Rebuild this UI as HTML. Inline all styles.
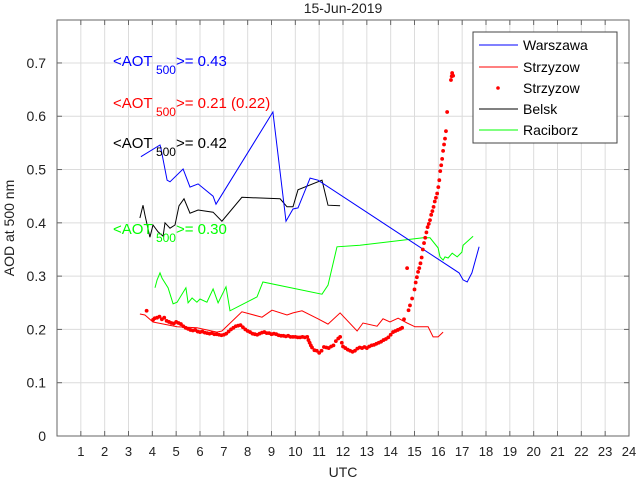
<!DOCTYPE html>
<html><head><meta charset="utf-8">
<style>
body{margin:0;background:#fff;}
svg{display:block;font-family:"Liberation Sans",sans-serif;}
</style></head>
<body>
<svg id="chart" width="640" height="480">
<rect x="0" y="0" width="640" height="480" fill="#fff"/>
<g id="grid"></g>
<g id="series"></g>
<rect x="57" y="20" width="572" height="416" fill="none" stroke="#666" stroke-width="1"/>
<g id="ticks"></g>
<text x="343" y="13" font-size="14" text-anchor="middle" fill="#222">15-Jun-2019</text>
<text x="343" y="477" font-size="14" text-anchor="middle" fill="#222">UTC</text>
<text transform="translate(14,228) rotate(-90)" font-size="14" text-anchor="middle" fill="#222">AOD at 500 nm</text>
<text x="113" y="66" font-size="15" fill="#0000ff">&lt;AOT<tspan dy="8" font-size="12"> 500</tspan><tspan dy="-8">&gt;= 0.43</tspan></text>
<text x="113" y="108" font-size="15" fill="#ff0000">&lt;AOT<tspan dy="8" font-size="12"> 500</tspan><tspan dy="-8">&gt;= 0.21 (0.22)</tspan></text>
<text x="113" y="148" font-size="15" fill="#000">&lt;AOT<tspan dy="8" font-size="12"> 500</tspan><tspan dy="-8">&gt;= 0.42</tspan></text>
<text x="113" y="234" font-size="15" fill="#00ff00">&lt;AOT<tspan dy="8" font-size="12"> 500</tspan><tspan dy="-8">&gt;= 0.30</tspan></text>
<g>
<rect x="473" y="32" width="144" height="111" fill="#fff" stroke="#444" stroke-width="1"/>
<line x1="479" y1="45" x2="518" y2="45" stroke="#0000ff"/>
<text x="523" y="50" font-size="14" fill="#000">Warszawa</text>
<line x1="479" y1="67" x2="518" y2="67" stroke="#ff0000"/>
<text x="523" y="72" font-size="14" fill="#000">Strzyzow</text>
<circle cx="498" cy="88" r="1.8" fill="#ff0000"/>
<text x="523" y="93" font-size="14" fill="#000">Strzyzow</text>
<line x1="479" y1="109" x2="518" y2="109" stroke="#000"/>
<text x="523" y="114" font-size="14" fill="#000">Belsk</text>
<line x1="479" y1="130" x2="518" y2="130" stroke="#00ff00"/>
<text x="523" y="135" font-size="14" fill="#000">Raciborz</text>
</g>
</svg>
<script>
const xTicks=[1,2,3,4,5,6,7,8,9,10,11,12,13,14,15,16,17,18,19,20,21,22,23,24];
const yTicks=[0,0.1,0.2,0.3,0.4,0.5,0.6,0.7];
const yTickLabels=["0","0.1","0.2","0.3","0.4","0.5","0.6","0.7"];
const warT=[3.52,4.32,4.36,4.62,4.74,5.29,5.58,5.92,6.55,6.67,9.06,9.61,9.90,10.11,10.62,10.95,16.87,17.04,17.21,17.41,17.71];
const warV=[0.524,0.546,0.540,0.480,0.477,0.501,0.467,0.473,0.450,0.435,0.608,0.403,0.426,0.428,0.484,0.480,0.306,0.293,0.289,0.306,0.355];
const belT=[3.48,3.61,3.69,3.90,4.03,4.24,4.45,4.53,4.74,4.95,5.12,5.33,5.58,5.92,6.55,6.92,7.76,9.36,9.65,9.90,10.11,11.12,11.37,11.88];
const belV=[0.409,0.433,0.415,0.373,0.396,0.383,0.375,0.400,0.390,0.396,0.432,0.445,0.418,0.424,0.420,0.403,0.448,0.445,0.430,0.430,0.462,0.480,0.433,0.432];
const racT=[4.11,4.20,4.32,4.41,4.66,4.87,5.04,5.41,5.50,5.67,5.87,6.00,6.29,6.55,6.76,7.09,7.26,8.39,8.64,11.12,11.37,11.75,12.71,15.36,15.65,15.99,16.07,16.20,16.28,16.41,16.58,16.79,16.99,17.04,17.46];
const racV=[0.278,0.293,0.306,0.296,0.278,0.248,0.251,0.278,0.250,0.259,0.251,0.257,0.251,0.276,0.250,0.280,0.235,0.261,0.289,0.266,0.283,0.355,0.358,0.372,0.372,0.353,0.336,0.330,0.336,0.334,0.343,0.336,0.345,0.358,0.375];
const strT=[3.48,3.69,4.03,5.04,5.87,6.71,6.92,7.76,8.60,9.02,9.65,9.90,10.28,10.95,11.37,11.88,12.59,12.84,13.43,13.68,13.97,14.31,14.69,15.02,15.57,15.78,15.99,16.20];
const strV=[0.229,0.227,0.214,0.205,0.203,0.195,0.197,0.233,0.223,0.236,0.227,0.231,0.235,0.220,0.210,0.231,0.197,0.212,0.206,0.220,0.214,0.221,0.212,0.205,0.205,0.186,0.186,0.195];
const dotPts=[
[3.76,0.235],[4.03,0.218],[4.1,0.221],[4.2,0.222],[4.3,0.224],[4.4,0.219],[4.5,0.222],[4.6,0.216],[4.7,0.214],[4.8,0.212],[4.9,0.211],[5.0,0.214],[5.1,0.212],[5.2,0.210],[5.3,0.206],[5.4,0.203],[5.5,0.201],[5.6,0.199],[5.7,0.198],[5.8,0.199],[5.9,0.196],[6.0,0.195],[6.1,0.196],[6.2,0.194],[6.3,0.193],[6.4,0.192],[6.5,0.193],[6.6,0.191],[6.7,0.191],[6.8,0.190],[6.9,0.189],[7.0,0.190],[7.1,0.192],[7.2,0.196],[7.3,0.200],[7.4,0.203],[7.5,0.206],[7.6,0.207],[7.7,0.208],[7.8,0.204],[7.9,0.200],[8.0,0.197],[8.1,0.195],[8.2,0.192],[8.3,0.191],[8.4,0.190],[8.5,0.192],[8.6,0.194],[8.7,0.195],[8.8,0.193],[8.9,0.193],[9.0,0.191],[9.1,0.192],[9.2,0.191],[9.3,0.189],[9.4,0.188],[9.5,0.188],[9.6,0.187],[9.7,0.188],[9.8,0.186],[9.9,0.186],[10.0,0.186],[10.1,0.185],[10.2,0.185],[10.3,0.186],[10.4,0.185],[10.5,0.186],[10.55,0.180],[10.6,0.175],[10.65,0.170],[10.7,0.166],[10.8,0.161],[10.9,0.160],[11.0,0.156],[11.1,0.160],[11.2,0.167],[11.3,0.166],[11.4,0.165],[11.5,0.168],[11.6,0.170],[11.7,0.178],[11.8,0.183],[11.88,0.186],[11.95,0.175],[12.0,0.168],[12.1,0.165],[12.2,0.162],[12.3,0.160],[12.4,0.158],[12.5,0.160],[12.6,0.164],[12.7,0.166],[12.8,0.165],[12.9,0.167],[13.0,0.165],[13.1,0.168],[13.2,0.170],[13.3,0.171],[13.4,0.173],[13.5,0.175],[13.6,0.177],[13.7,0.180],[13.8,0.182],[13.9,0.185],[14.0,0.190],[14.1,0.195],[14.2,0.197],[14.3,0.199],[14.4,0.201],[14.48,0.203],[14.56,0.219],[14.69,0.315],[14.75,0.236],[14.81,0.245],[14.9,0.258],[15.0,0.275],[15.05,0.288],[15.1,0.298],[15.15,0.308],[15.2,0.315],[15.25,0.324],[15.3,0.335],[15.35,0.350],[15.4,0.362],[15.45,0.372],[15.5,0.382],[15.55,0.392],[15.6,0.398],[15.65,0.405],[15.7,0.415],[15.75,0.422],[15.8,0.430],[15.85,0.440],[15.9,0.447],[15.95,0.455],[16.0,0.467],[16.04,0.480],[16.08,0.497],[16.12,0.508],[16.16,0.520],[16.2,0.535],[16.24,0.547],[16.28,0.558],[16.32,0.572],[16.37,0.608],[16.53,0.668],[16.56,0.675],[16.58,0.681],[16.62,0.676]];
const NS="http://www.w3.org/2000/svg";
const X0=57,X1=629,Y0=436,Y1=20,XMAX=24,YMAX=0.7806;
function sx(t){return X0+(X1-X0)*t/XMAX;}
function sy(v){return Y0-(Y0-Y1)*v/YMAX;}
const grid=document.getElementById('grid'),ticks=document.getElementById('ticks'),series=document.getElementById('series');
xTicks.forEach(t=>{
 const l=document.createElementNS(NS,'line');
 l.setAttribute('x1',sx(t));l.setAttribute('x2',sx(t));l.setAttribute('y1',Y1);l.setAttribute('y2',Y0);
 l.setAttribute('stroke','#dcdcdc');
 
 
 grid.appendChild(l);
 [[Y0,Y0-5],[Y1,Y1+5]].forEach(([a,b])=>{
  const tk=document.createElementNS(NS,'line');
  tk.setAttribute('x1',sx(t));tk.setAttribute('x2',sx(t));tk.setAttribute('y1',a);tk.setAttribute('y2',b);
  tk.setAttribute('stroke','#666');
  
  
  ticks.appendChild(tk);
 });
 const tx=document.createElementNS(NS,'text');
 tx.setAttribute('x',sx(t));tx.setAttribute('y',Y0+20);tx.setAttribute('font-size','13');tx.setAttribute('text-anchor','middle');tx.setAttribute('fill','#222');
 tx.textContent=String(t);
 
 
 ticks.appendChild(tx);
});
yTicks.forEach((v,i)=>{
 const l=document.createElementNS(NS,'line');
 l.setAttribute('x1',X0);l.setAttribute('x2',X1);l.setAttribute('y1',sy(v));l.setAttribute('y2',sy(v));
 l.setAttribute('stroke','#dcdcdc');
 
 
 grid.appendChild(l);
 [[X0,X0+5],[X1,X1-5]].forEach(([a,b])=>{
  const tk=document.createElementNS(NS,'line');
  tk.setAttribute('x1',a);tk.setAttribute('x2',b);tk.setAttribute('y1',sy(v));tk.setAttribute('y2',sy(v));
  tk.setAttribute('stroke','#666');
  
  
  ticks.appendChild(tk);
 });
 const tx=document.createElementNS(NS,'text');
 tx.setAttribute('x',X0-11);tx.setAttribute('y',sy(v)+5);tx.setAttribute('font-size','14');tx.setAttribute('text-anchor','end');tx.setAttribute('fill','#222');
 tx.textContent=yTickLabels[i];
 
 
 ticks.appendChild(tx);
});
function line(ts,vs,color,name){
 const p=document.createElementNS(NS,'polyline');
 p.setAttribute('points',ts.map((t,i)=>sx(t).toFixed(1)+','+sy(vs[i]).toFixed(1)).join(' '));
 p.setAttribute('fill','none');p.setAttribute('stroke',color);p.setAttribute('stroke-width','1');
 
 
 series.appendChild(p);
}
line(racT,racV,'#00ff00','raciborz-line');
line(strT,strV,'#ff0000','strzyzow-line');
line(belT,belV,'#000000','belsk-line');
line(warT,warV,'#0000ff','warszawa-line');
dotPts.forEach(([t,v])=>{
 const c=document.createElementNS(NS,'circle');
 c.setAttribute('cx',sx(t));c.setAttribute('cy',sy(v));c.setAttribute('r','1.9');c.setAttribute('fill','#ff0000');
 
 
 series.appendChild(c);
});
</script>
</body></html>
